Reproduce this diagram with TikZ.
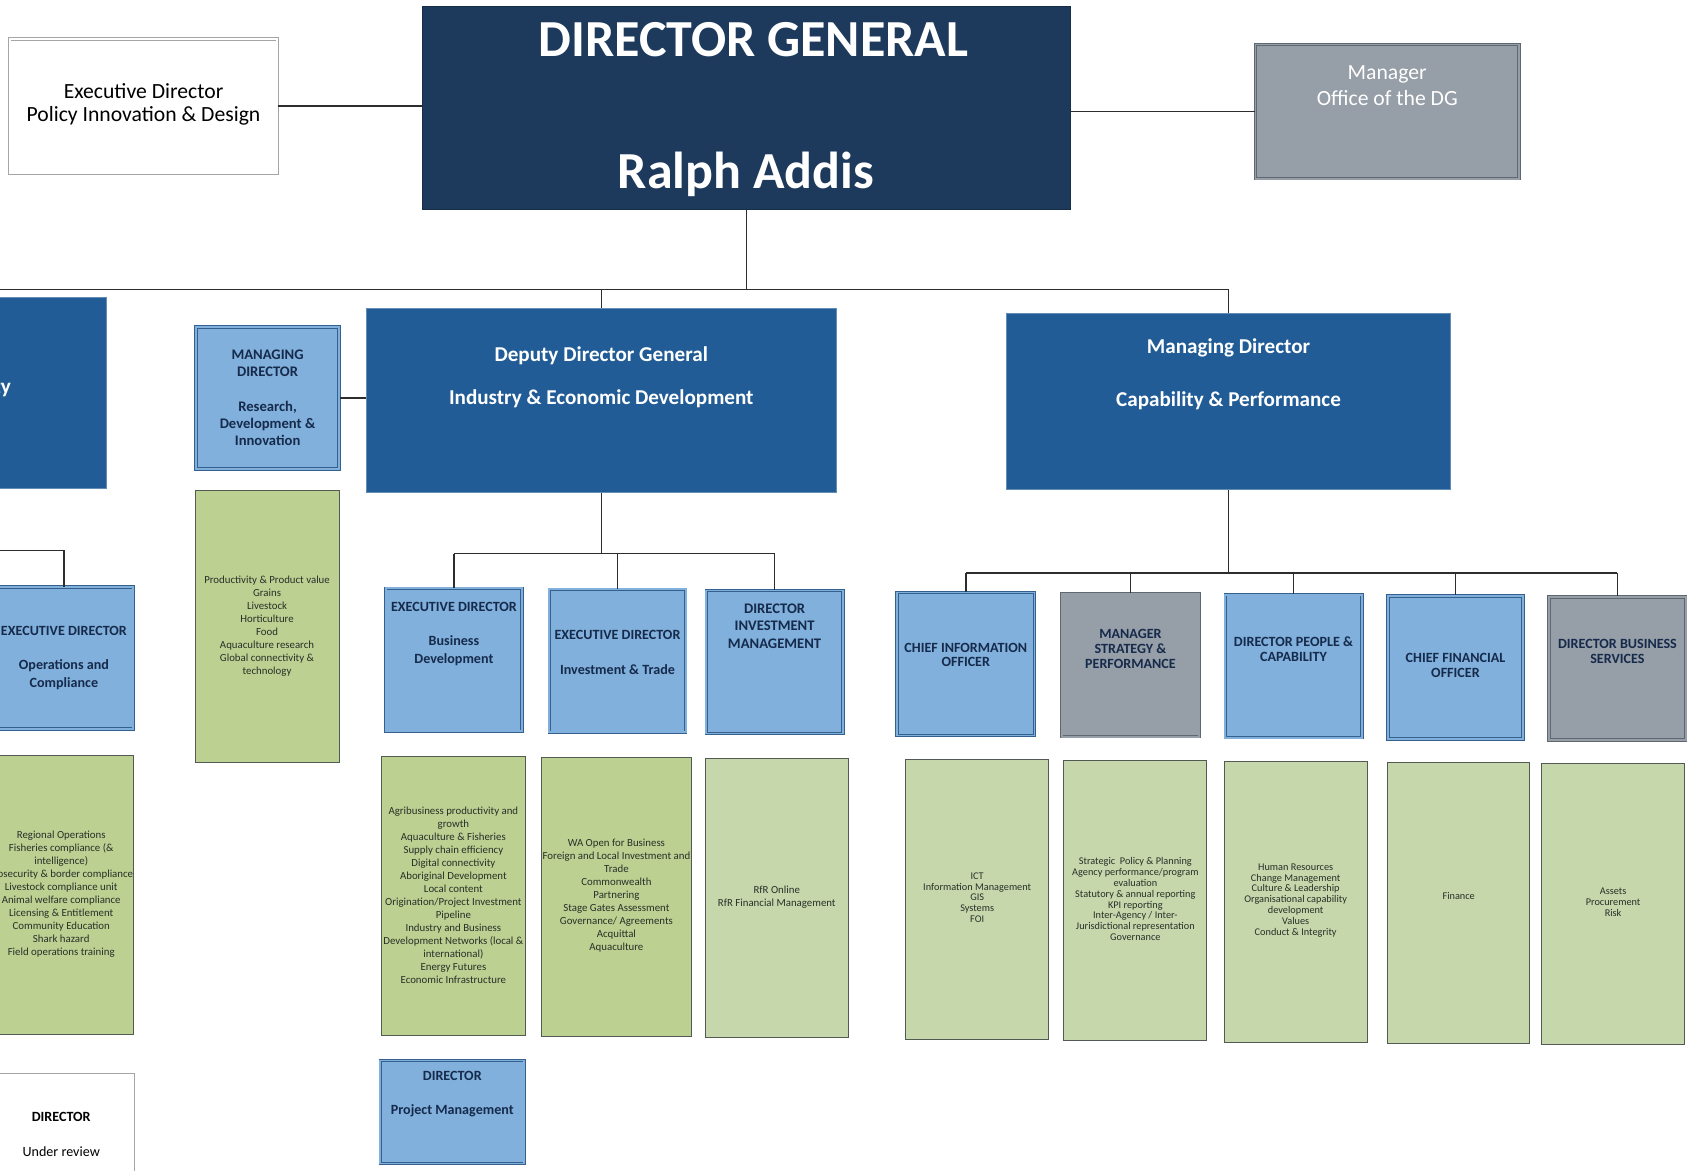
\documentclass[tikz,border=0pt]{standalone}
\usepackage{fontspec}
\setmainfont{Carlito}

\newcommand{\setfs}[2]{\fontsize{#1}{#2}\selectfont}

\definecolor{dgnavy}{RGB}{29,57,91}
\definecolor{ddgblue}{RGB}{33,92,150}
\definecolor{lightblue}{RGB}{128,176,219}
\definecolor{blueedge}{RGB}{52,96,142}
\definecolor{midgrey}{RGB}{150,158,167}
\definecolor{greyedge}{RGB}{95,104,112}
\definecolor{boxgrey}{RGB}{165,165,165}
\definecolor{leafgreen}{RGB}{188,208,146}
\definecolor{sagegreen}{RGB}{198,215,172}
\definecolor{inknavy}{RGB}{22,42,75}
\definecolor{inkgreen}{RGB}{40,48,40}
\definecolor{linegrey}{RGB}{45,45,45}

\tikzset{
  orgbox/.style={rectangle, inner sep=0pt, line width=0.8pt},
  dgbox/.style={orgbox, fill=dgnavy, draw=dgnavy!80!black},
  ddgbox/.style={orgbox, fill=ddgblue, draw=ddgblue!70!white, line width=1pt},
  bluebox/.style={orgbox, fill=lightblue, draw=blueedge, double=lightblue, double distance=1.6pt},
  greybox/.style={orgbox, fill=midgrey, draw=greyedge, double=midgrey, double distance=1.6pt},
  whitebox/.style={orgbox, fill=white, draw=boxgrey, double=white, double distance=1.6pt},
  greenbox/.style={orgbox, fill=leafgreen, draw=inkgreen!80},
  sagebox/.style={orgbox, fill=sagegreen, draw=inkgreen!80},
  wtext/.style={text=white, align=center},
  btext/.style={text=inknavy, align=center, font=\setfs{13}{16}\bfseries},
  ctext/.style={text=inknavy, align=center, font=\setfs{13}{13.5}\bfseries},
  gtext/.style={text=inkgreen, align=center, font=\setfs{10}{12}},
  stext/.style={text=inkgreen, align=center, font=\setfs{9.5}{10}},
  conn/.style={draw=linegrey, line width=1.3pt},
}

\begin{document}
\begin{tikzpicture}[x=1pt, y=-1pt]
\useasboundingbox (0,0) rectangle (1560,1080);
\clip (0,0) rectangle (1560,1080);

% top row
\node[dgbox, minimum width=598, minimum height=187] (dg) at (689,99.5) {};
\node[whitebox, minimum width=247, minimum height=124] (edpid) at (132.5,98) {};
\node[greybox, minimum width=243, minimum height=124] (mgr) at (1280.5,103) {};

\node[wtext, font=\setfs{48}{48}\bfseries, anchor=base] (dgtitle) at (695.5,52) {DIRECTOR GENERAL};
\node[wtext, font=\setfs{48}{48}\bfseries, anchor=base] (dgname) at (688.5,174) {Ralph Addis};
\node[align=center, font=\setfs{20}{21}] (edpidtext) at (132.5,96.5) {Executive Director\\Policy Innovation \& Design};
\node[wtext, font=\setfs{20}{24}] (mgrtext) at (1280.5,79) {Manager\\Office of the DG};

% deputies
\node[ddgbox, minimum width=398, minimum height=176] (ddgl) at (-101,363) {};
\node[wtext, font=\setfs{19.5}{40}\bfseries] (ddgltext) at (-101,338) {Deputy Director General\\Sustainability \& Biosecurity};
\node[bluebox, minimum width=132, minimum height=131] (rdi) at (247,367.5) {};
\node[btext, font=\setfs{13.5}{16}\bfseries] (rditext) at (247,367) {MANAGING\\DIRECTOR\\[16pt]Research,\\Development \&\\Innovation};
\node[ddgbox, minimum width=434, minimum height=170] (ddg) at (555,370) {};
\node[wtext, font=\setfs{19.5}{40}\bfseries] (ddgtext) at (555,348) {Deputy Director General\\Industry \& Economic Development};
\node[ddgbox, minimum width=410, minimum height=163] (md) at (1134,370.5) {};
\node[wtext, font=\setfs{19.5}{49}\bfseries] (mdtext) at (1134,345.5) {Managing Director\\Capability \& Performance};

% directors
\node[bluebox, minimum width=128, minimum height=131] (edoc) at (59,607.5) {};
\node[btext] (edoctext) at (59,607) {EXECUTIVE DIRECTOR\\[16pt]Operations and\\Compliance};
\node[bluebox, minimum width=126, minimum height=132] (edbd) at (419,609) {};
\node[btext] (edbdtext) at (419,585) {EXECUTIVE DIRECTOR\\[16pt]Business\\Development};
\node[bluebox, minimum width=126, minimum height=132] (edit) at (570,610) {};
\node[btext] (edittext) at (570,602) {EXECUTIVE DIRECTOR\\[16pt]Investment \& Trade};
\node[bluebox, minimum width=126, minimum height=132] (dim) at (715,611) {};
\node[btext, font=\setfs{13.5}{16}\bfseries] (dimtext) at (715,578) {DIRECTOR\\INVESTMENT\\MANAGEMENT};

\node[bluebox, minimum width=127, minimum height=132] (cio) at (891.5,613) {};
\node[ctext] (ciotext) at (891.5,604.5) {CHIEF INFORMATION\\OFFICER};
\node[greybox, minimum width=127, minimum height=132] (msp) at (1043.5,614) {};
\node[ctext] (msptext) at (1043.5,599) {MANAGER\\STRATEGY \&\\PERFORMANCE};
\node[bluebox, minimum width=126, minimum height=132] (dpc) at (1194,615) {};
\node[ctext] (dpctext) at (1194,599.5) {DIRECTOR PEOPLE \&\\CAPABILITY};
\node[bluebox, minimum width=125, minimum height=132] (cfo) at (1343.5,616) {};
\node[ctext] (cfotext) at (1343.5,614.5) {CHIEF FINANCIAL\\OFFICER};
\node[greybox, minimum width=126, minimum height=132] (dbs) at (1493,617) {};
\node[ctext] (dbstext) at (1493,601.5) {DIRECTOR BUSINESS\\SERVICES};

% functions
\node[greenbox, minimum width=133, minimum height=258] (edocg) at (56.5,826) {};
\node[gtext] (edocgtext) at (56.5,825) {Regional Operations\\Fisheries compliance (\&\\intelligence)\\Biosecurity \& border compliance\\Livestock compliance unit\\Animal welfare compliance\\Licensing \& Entitlement\\Community Education\\Shark hazard\\Field operations training};
\node[greenbox, minimum width=133, minimum height=251] (rdig) at (246.5,578.5) {};
\node[gtext] (rdigtext) at (246.5,578) {Productivity \& Product value\\Grains\\Livestock\\Horticulture\\Food\\Aquaculture research\\Global connectivity \&\\technology};
\node[greenbox, minimum width=133, minimum height=258] (edbdg) at (418.5,827) {};
\node[gtext] (edbdgtext) at (418.5,826) {Agribusiness productivity and\\growth\\Aquaculture \& Fisheries\\Supply chain efficiency\\Digital connectivity\\Aboriginal Development\\Local content\\Origination/Project Investment\\Pipeline\\Industry and Business\\Development Networks (local \&\\international)\\Energy Futures\\Economic Infrastructure};
\node[greenbox, minimum width=138, minimum height=258] (editg) at (569,828) {};
\node[gtext] (editgtext) at (569,827) {WA Open for Business\\Foreign and Local Investment and\\Trade\\Commonwealth\\Partnering\\Stage Gates Assessment\\Governance/ Agreements\\Acquittal\\Aquaculture};
\node[sagebox, minimum width=132, minimum height=258] (dimg) at (717,829) {};
\node[gtext] (dimgtext) at (717,828) {RfR Online\\RfR Financial Management};

\node[sagebox, minimum width=132, minimum height=258] (ciog) at (902,830) {};
\node[stext] (ciogtext) at (902,828.5) {ICT\\Information Management\\GIS\\Systems\\FOI};
\node[sagebox, minimum width=132, minimum height=258] (mspg) at (1048,831) {};
\node[stext] (mspgtext) at (1048,830) {Strategic~ Policy \& Planning\\Agency performance/program\\evaluation\\Statutory \& annual reporting\\KPI reporting\\Inter-Agency / Inter-\\Jurisdictional representation\\Governance};
\node[sagebox, minimum width=132, minimum height=259] (dpcg) at (1196,832.5) {};
\node[stext] (dpcgtext) at (1196,831) {Human Resources\\Change Management\\Culture \& Leadership\\Organisational capability\\development\\Values\\Conduct \& Integrity};
\node[sagebox, minimum width=131, minimum height=259] (cfog) at (1346.5,833.5) {};
\node[stext] (cfogtext) at (1346.5,827) {Finance};
\node[sagebox, minimum width=132, minimum height=259] (dbsg) at (1489,834.5) {};
\node[stext] (dbsgtext) at (1489,833) {Assets\\Procurement\\Risk};

% bottom row
\node[bluebox, minimum width=133, minimum height=95] (dpm) at (417.5,1026.5) {};
\node[btext] (dpmtext) at (417.5,1010) {DIRECTOR\\[16pt]Project Management};
\node[whitebox, minimum width=133, minimum height=110] (review) at (56.5,1047) {};
\node[align=center, font=\setfs{13}{16}] (reviewtext) at (56.5,1047) {{\bfseries DIRECTOR}\\[16pt]Under review};

% connectors
\draw[conn] (edpid.east) -- (dg.west |- edpid.east);
\draw[conn] (dg.east |- mgr.west) -- (mgr.west);
\coordinate (topbus) at (-101,267);
\draw[conn] (dg.south) -- (dg.south |- topbus);
\draw[conn] (ddgl.north) -- (topbus) -- (topbus -| md.north) -- (md.north);
\draw[conn] (ddg.north) -- (ddg.north |- topbus);
\draw[conn] (rdi.east) -- (ddg.west |- rdi.east);

\coordinate (leftbus) at (-101,508);
\draw[conn] (ddgl.south) -- (leftbus) -| (edoc.north);

\coordinate (ddgbus) at (555,511);
\draw[conn] (ddg.south) -- (ddgbus);
\draw[conn] (edbd.north |- ddgbus) -- (dim.north |- ddgbus);
\foreach \n in {edbd,edit,dim}
{
    \draw[conn] (\n.north |- ddgbus) -- (\n.north);
}

\coordinate (mdbus) at (1134,529);
\draw[conn] (md.south) -- (mdbus);
\draw[conn] (cio.north |- mdbus) -- (dbs.north |- mdbus);
\foreach \n in {cio,msp,dpc,cfo,dbs}
{
    \draw[conn] (\n.north |- mdbus) -- (\n.north);
}

\end{tikzpicture}
\end{document}
